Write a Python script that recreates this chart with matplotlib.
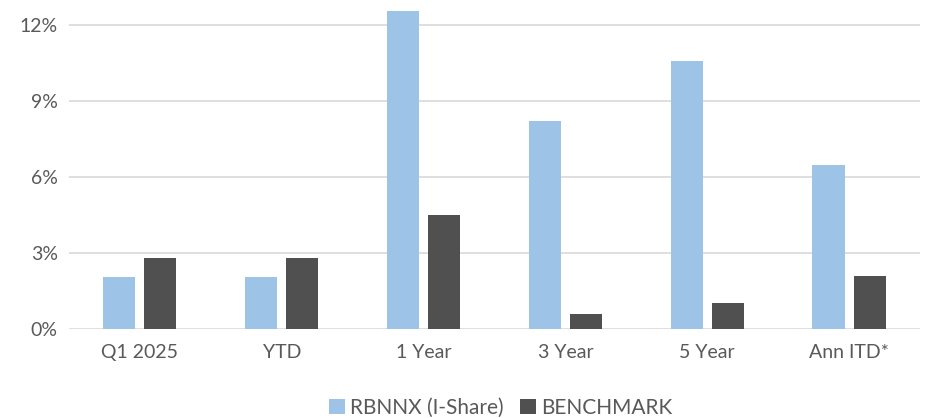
import numpy as np
import matplotlib
matplotlib.use('Agg')
import matplotlib.pyplot as plt

# ── Data ──
categories = ['Q1 2025', 'YTD', '1 Year', '3 Year', '5 Year', 'Ann ITD*']
fund = [2.04, 2.04, 12.56, 8.2, 10.6, 6.46]
bench = [2.81, 2.81, 4.49, 0.58, 1.0, 2.08]
series_names = ['RBNNX (I-Share)', 'BENCHMARK']
yticks = [0, 3, 6, 9, 12]

plt.rcParams['font.family'] = ['Lato', 'DejaVu Sans']
txt = '#595959'

fig = plt.figure(figsize=(9.27, 4.18), dpi=100)
ax = fig.add_axes([0.0744, 0.2137, 0.918, 0.762])

x = np.arange(len(categories))
w = 0.226
off = 0.145
ax.bar(x - off, fund, w, color='#9dc3e6', label=series_names[0], zorder=3)
ax.bar(x + off, bench, w, color='#505050', label=series_names[1], zorder=3)

ax.set_xlim(-0.5, len(categories) - 0.5)
ax.set_ylim(0, 12.6)
ax.set_yticks(yticks)
ax.set_yticklabels(['%d%%' % t for t in yticks])
ax.set_xticks(x)
ax.set_xticklabels(categories)
ax.yaxis.grid(True, color='#d9d9d9', lw=1.2, zorder=0)
ax.tick_params(length=0, labelsize=14, colors=txt)
ax.tick_params(axis='x', pad=11)
ax.tick_params(axis='y', pad=8)
for s in ax.spines.values():
    s.set_visible(False)

fig.legend(loc='lower center', bbox_to_anchor=(0.54, -0.045), ncol=2, frameon=False,
           fontsize=15, labelcolor=txt, handlelength=0.75, handleheight=0.75,
           handletextpad=0.25, columnspacing=0.8)

fig.savefig('out.png', dpi=100)
